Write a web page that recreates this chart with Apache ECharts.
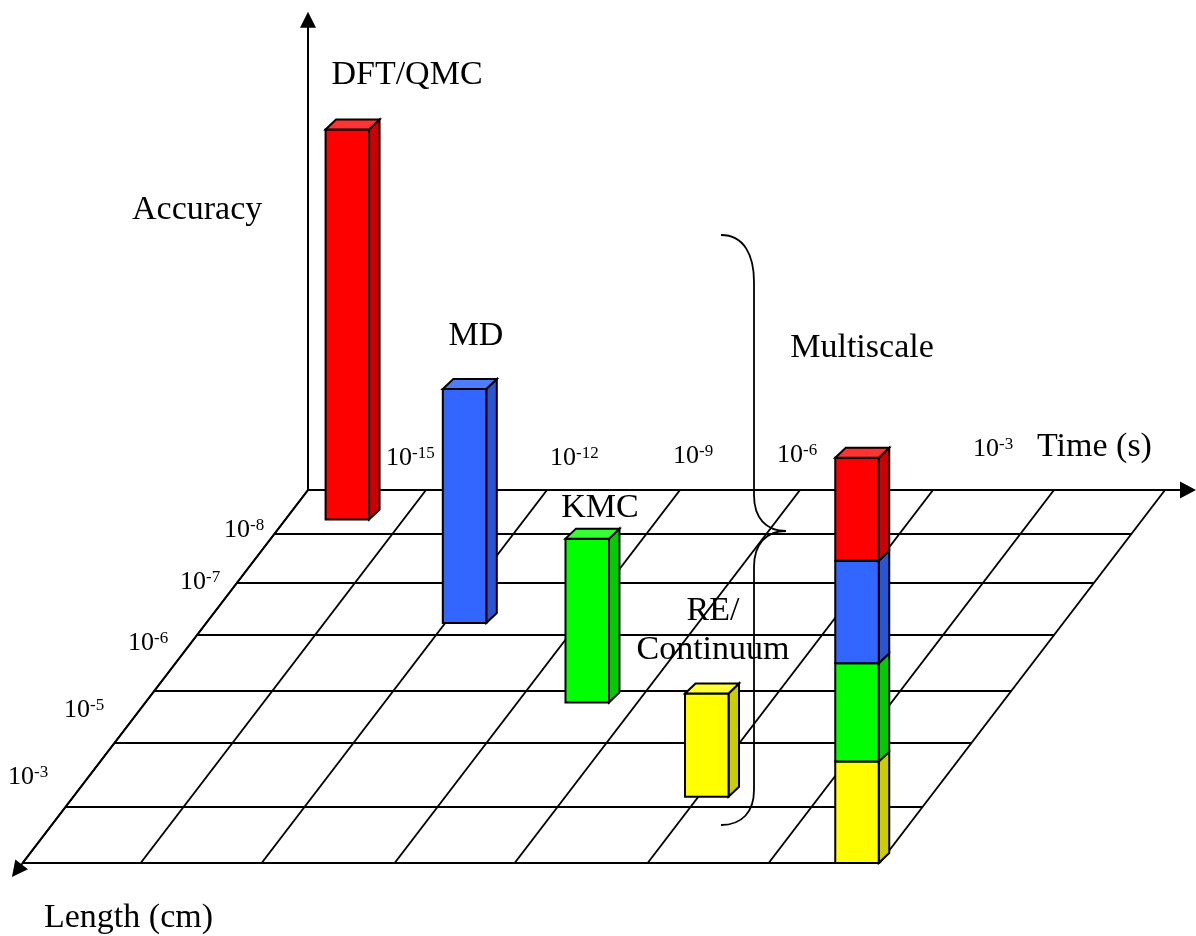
<!DOCTYPE html>
<html>
<head>
<meta charset="utf-8">
<title>Accuracy vs. time and length scales of simulation methods</title>
<script src="https://cdn.jsdelivr.net/npm/echarts@6/dist/echarts.min.js"></script>
<style>
  html, body { margin: 0; padding: 0; background: #ffffff; }
  #chart { width: 1196px; height: 936px; }
</style>
</head>
<body>
<div id="chart"></div>
<script>
// ---- Data -----------------------------------------------------------------
// Simulation methods, where each sits on the time/length floor (in grid cells)
// and how high it reaches on the accuracy axis.
const methods    = ['DFT/QMC', 'MD', 'KMC', 'RE/\nContinuum'];
const timeCell   = [0.34, 1.98, 3.40, 4.90];
const lengthCell = [0.67, 2.77, 4.22, 5.84];
const accuracy   = [100, 60, 42, 26.5];

// Multiscale column: one block per method, stacked from the bottom
// (RE/Continuum, KMC, MD, DFT/QMC).
const multiscaleLabel    = 'Multiscale';
const multiscaleMethods  = [3, 2, 1, 0];
const multiscaleAccuracy = [26, 25.2, 26.3, 26.4];
const multiscaleCell     = [6.6, 7.0];

// Axis tick labels (powers of ten)
const timeExponents   = ['-15', '-12', '-9', '-6', '-3'];
const lengthExponents = ['-8', '-7', '-6', '-5', '-3'];

// Axis titles
const accuracyTitle = 'Accuracy';
const timeTitle     = 'Time (s)';
const lengthTitle   = 'Length (cm)';

// ---- Layout & style ---------------------------------------------------------
// Oblique floor: time runs to the right along the back edge, length runs
// toward the viewer down-left, accuracy rises vertically.
const X0 = 308, Y0 = 490, SHEAR = 0.765, ACC_PX = 3.9;
const timeEdges   = [0, 118, 239, 372, 492, 625, 746, 857];
const lengthEdges = [0, 44, 93, 145, 201, 253, 317, 373];
const TIME_TIP = 888, LENGTH_TIP = 387, ACC_TIP = 122.6;
const BAR_W = 43.5, BAR_DX = 10.5, BAR_DY = -10;
const INK = '#000000';
const GRID_W = 1.9, EDGE_W = 2;
const FONT = '"Liberation Serif", "DejaVu Serif", serif';
const MID = 0.2;   // canvas "middle" baseline sits this many em above the alphabetic one

const palette = [
  { front: '#FF0000', side: '#CC0000', top: '#FF3333' },
  { front: '#3366FF', side: '#2B55D0', top: '#4D7CFF' },
  { front: '#00FF00', side: '#00CC00', top: '#33FF33' },
  { front: '#FFFF00', side: '#CCCC00', top: '#FFFF33' }
];

const methodLabelAt  = [[407, 82], [476, 343], [600, 515], [713, 618]];
const multiscaleAt   = [862, 355];
const timeTickAt     = [[386, 463], [550, 463], [673, 461], [777, 460], [973, 454]];
const lengthTickAt   = [[224, 535], [180, 587], [128, 648], [64, 715], [8, 782]];
const accuracyTitleAt = [132, 217];
const timeTitleAt     = [1037, 454];
const lengthTitleAt   = [44, 925];
const LINE_GAP = 39;

const bracePath = [
  ['M', 721, 235], ['C', 744, 235, 754, 255, 754, 282], ['L', 754, 495],
  ['C', 754, 518, 766, 531, 786, 531], ['C', 766, 531, 754, 544, 754, 567],
  ['L', 754, 790], ['C', 754, 812, 742, 825, 721, 825]
];

// ---- Geometry helpers -------------------------------------------------------
function edgeAt(edges, c) {
  const n = edges.length - 1;
  const i = Math.max(0, Math.min(n - 1, Math.floor(c)));
  return edges[i] + (c - i) * (edges[i + 1] - edges[i]);
}
function paper(u, v, acc) {
  return [X0 + u - SHEAR * v, Y0 + v - (acc || 0) * ACC_PX];
}
function cellPoint(tc, lc, acc) {
  return paper(edgeAt(timeEdges, tc), edgeAt(lengthEdges, lc), acc);
}
function seg(api, p, q, lw) {
  const a = api.coord(p), b = api.coord(q);
  return { type: 'line', shape: { x1: a[0], y1: a[1], x2: b[0], y2: b[1] },
           style: { stroke: INK, lineWidth: lw || GRID_W, lineCap: 'butt' } };
}
function arrow(api, from, tip, len, half, lw) {
  const a = api.coord(from), t = api.coord(tip);
  const dx = t[0] - a[0], dy = t[1] - a[1], L = Math.hypot(dx, dy);
  const ux = dx / L, uy = dy / L;
  const bx = t[0] - ux * len, by = t[1] - uy * len;
  return [
    { type: 'line', shape: { x1: a[0], y1: a[1], x2: bx + ux * 2, y2: by + uy * 2 },
      style: { stroke: INK, lineWidth: lw || GRID_W } },
    { type: 'polygon',
      shape: { points: [[t[0], t[1]], [bx - uy * half, by + ux * half], [bx + uy * half, by - ux * half]] },
      style: { fill: INK } }
  ];
}
function text(api, at, str, size, align) {
  const p = api.coord(at);
  return { type: 'text', x: p[0], y: p[1] - MID * size,
           style: { text: str, font: size + 'px ' + FONT, fill: INK,
                    align: align || 'left', textAlign: align || 'left',
                    verticalAlign: 'middle', textVerticalAlign: 'middle' } };
}
function power(api, at, exp) {
  return [text(api, at, '10', 26), text(api, [at[0] + 26, at[1] - 6], exp, 17)];
}
// One box of a 3-D column: front face, right side face and (optionally) lid.
function prism(api, base, h, pal, withTop) {
  const [x, y] = base;
  const c = p => api.coord(p);
  const fl = c([x, y]), fr = c([x + BAR_W, y]);
  const tl = c([x, y - h]), tr = c([x + BAR_W, y - h]);
  const br2 = c([x + BAR_W + BAR_DX, y + BAR_DY]);
  const tr2 = c([x + BAR_W + BAR_DX, y - h + BAR_DY]);
  const tl2 = c([x + BAR_DX, y - h + BAR_DY]);
  const edge = { stroke: INK, lineWidth: EDGE_W, lineJoin: 'miter' };
  const out = [
    { type: 'polygon', shape: { points: [fr, br2, tr2, tr] }, style: Object.assign({ fill: pal.side }, edge) },
    { type: 'polygon', shape: { points: [tl, tr, fr, fl] }, style: Object.assign({ fill: pal.front }, edge) }
  ];
  if (withTop) {
    out.push({ type: 'polygon', shape: { points: [tl, tl2, tr2, tr] }, style: Object.assign({ fill: pal.top }, edge) });
  }
  return out;
}

// ---- Render functions -------------------------------------------------------
function renderFloor(params, api) {
  const uMax = timeEdges[timeEdges.length - 1], vMax = lengthEdges[lengthEdges.length - 1];
  const kids = [];
  lengthEdges.forEach(v => kids.push(seg(api, paper(0, v), paper(uMax, v))));
  timeEdges.forEach(u => kids.push(seg(api, paper(u, 0), paper(u, vMax))));
  return { type: 'group', children: kids };
}
function renderAxes(params, api) {
  const kids = [].concat(
    arrow(api, paper(0, 0, 0), paper(0, 0, ACC_TIP), 16, 8, 2),
    arrow(api, paper(0, 0), paper(TIME_TIP, 0), 16, 8.5),
    arrow(api, paper(0, 0), paper(0, LENGTH_TIP), 16, 8)
  );
  return { type: 'group', children: kids };
}
function renderMethod(params, api) {
  const i = api.value(3);
  const base = cellPoint(api.value(0), api.value(1), 0);
  const h = api.value(2) * ACC_PX;
  return { type: 'group', children: prism(api, base, h, palette[i], true) };
}
function renderMultiscale(params, api) {
  const k = api.value(3);
  let below = 0;
  for (let j = 0; j < k; j++) below += multiscaleAccuracy[j];
  const base = cellPoint(api.value(0), api.value(1), below);
  const h = api.value(2) * ACC_PX;
  const last = k === multiscaleAccuracy.length - 1;
  return { type: 'group', children: prism(api, base, h, palette[multiscaleMethods[k]], last) };
}
function renderBrace(params, api) {
  let d = '';
  bracePath.forEach(cmd => {
    d += cmd[0];
    for (let j = 1; j < cmd.length; j += 2) {
      const p = api.coord([cmd[j], cmd[j + 1]]);
      d += p[0].toFixed(1) + ',' + p[1].toFixed(1) + ' ';
    }
  });
  return { type: 'path', shape: { pathData: d }, style: { stroke: INK, lineWidth: 1.8, fill: null } };
}
function renderLabels(params, api) {
  const kids = [];
  methods.forEach((m, i) => {
    m.split('\n').forEach((line, j) => {
      kids.push(text(api, [methodLabelAt[i][0], methodLabelAt[i][1] + j * LINE_GAP], line, 34, 'center'));
    });
  });
  kids.push(text(api, multiscaleAt, multiscaleLabel, 34, 'center'));
  kids.push(text(api, accuracyTitleAt, accuracyTitle, 34));
  kids.push(text(api, timeTitleAt, timeTitle, 34));
  kids.push(text(api, lengthTitleAt, lengthTitle, 34));
  timeExponents.forEach((e, i) => power(api, timeTickAt[i], e).forEach(t => kids.push(t)));
  lengthExponents.forEach((e, i) => power(api, lengthTickAt[i], e).forEach(t => kids.push(t)));
  return { type: 'group', children: kids };
}

// ---- Chart ------------------------------------------------------------------
const chart = echarts.init(document.getElementById('chart'), null, { renderer: 'canvas' });
const single = [[0, 0]];
chart.setOption({
  backgroundColor: '#ffffff',
  animation: false,
  grid: { left: 0, right: 0, top: 0, bottom: 0 },
  xAxis: { type: 'value', min: 0, max: 1196, show: false },
  yAxis: { type: 'value', min: 0, max: 936, inverse: true, show: false },
  series: [
    { type: 'custom', name: 'floor', renderItem: renderFloor, data: single, silent: true, z: 1 },
    { type: 'custom', name: 'axes', renderItem: renderAxes, data: single, silent: true, z: 2 },
    { type: 'custom', name: 'methods', renderItem: renderMethod, z: 3,
      data: methods.map((m, i) => [timeCell[i], lengthCell[i], accuracy[i], i]) },
    { type: 'custom', name: 'multiscale', renderItem: renderMultiscale, z: 3,
      data: multiscaleAccuracy.map((a, k) => [multiscaleCell[0], multiscaleCell[1], a, k]) },
    { type: 'custom', name: 'brace', renderItem: renderBrace, data: single, silent: true, z: 4 },
    { type: 'custom', name: 'labels', renderItem: renderLabels, data: single, silent: true, z: 5 }
  ]
});
</script>
</body>
</html>
